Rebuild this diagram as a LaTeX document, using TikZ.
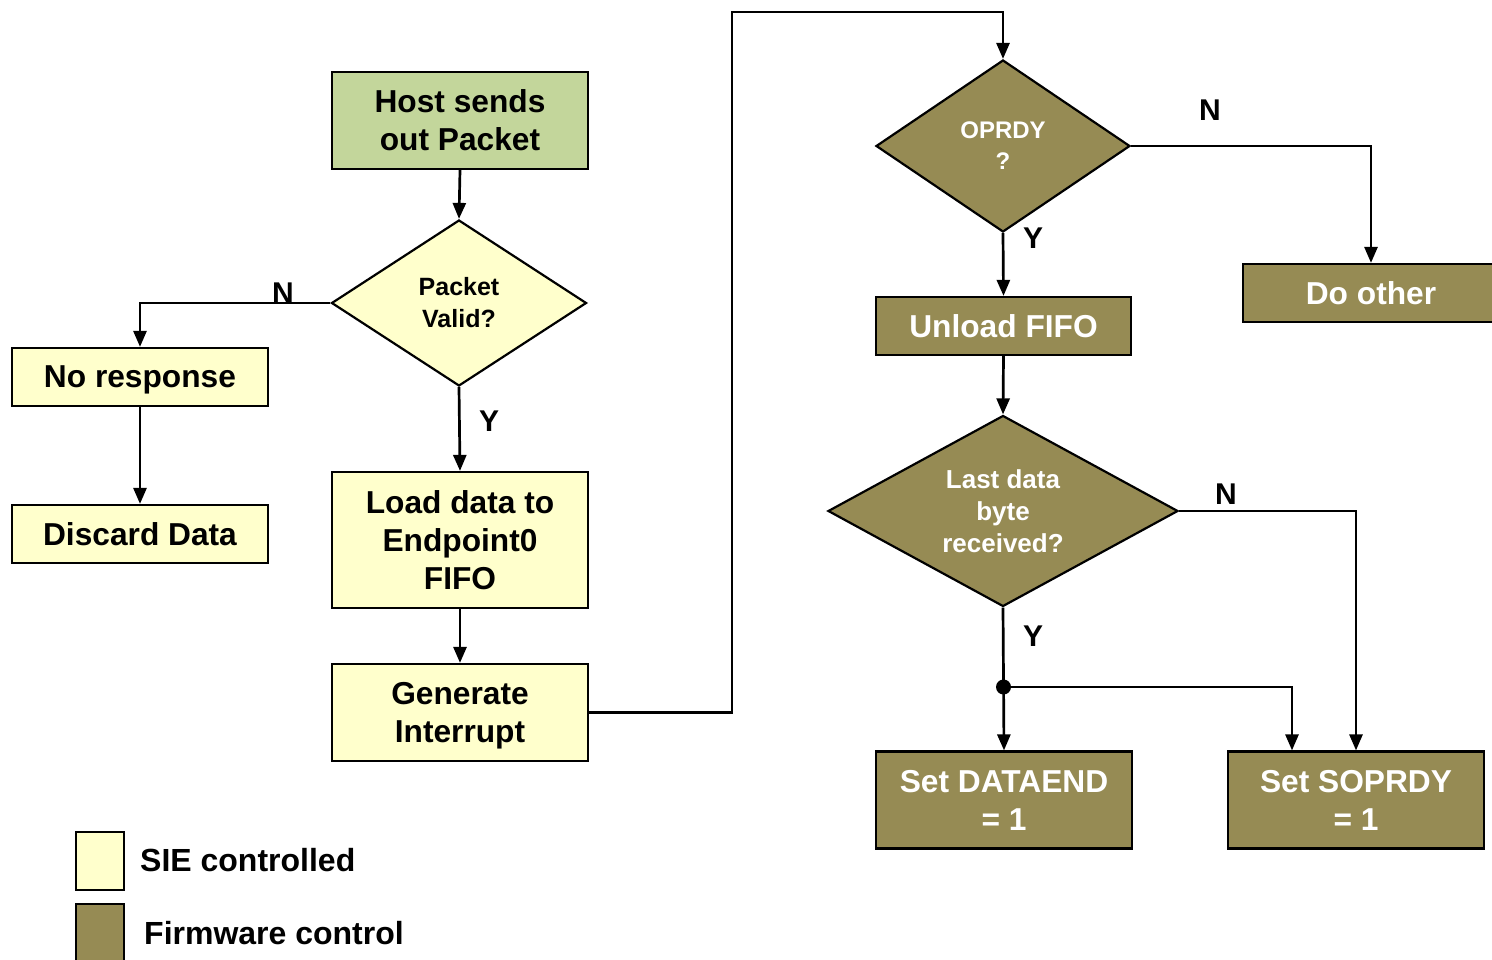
\documentclass[tikz,border=0pt]{standalone}
\usepackage{fontspec}
\setmainfont{Liberation Sans}
\usetikzlibrary{shapes.geometric,arrows.meta}
\definecolor{hostgreen}{HTML}{C3D69B}
\definecolor{sieyel}{HTML}{FFFFCC}
\definecolor{fwcol}{HTML}{968B54}
\begin{document}
\begin{tikzpicture}[x=1pt,y=-1pt,
  box/.style={draw=black, line width=2.2pt, minimum width=256pt, inner sep=0pt, align=center,
              text depth=0pt, font=\bfseries\fontsize{31.7}{38}\selectfont},
  sie/.style={box, fill=sieyel},
  fw/.style={box, fill=fwcol, text=white},
  dia/.style={diamond, draw=black, line width=2.2pt, inner sep=0pt, align=center},
  arr/.style={line width=2.7pt, -{Triangle[length=16pt,width=13pt]}},
  lbl/.style={inner sep=0pt, font=\bfseries\fontsize{30}{36}\selectfont},
  legtxt/.style={anchor=west, inner sep=0pt, font=\bfseries\fontsize{32}{38}\selectfont}]
\useasboundingbox (0,0) rectangle (1492,960);
\clip (0,0) rectangle (1492,960);

% left column
\node[box, fill=hostgreen, minimum height=97pt] (host) at (460,120.5) {Host sends\\out Packet};
\node[dia, fill=sieyel, minimum width=255pt, minimum height=166pt,
      font=\bfseries\fontsize{25}{32}\selectfont] (pv) at (459,303) {Packet\\Valid?};
\node[sie, minimum height=58pt] (nr) at (140,377) {No response};
\node[sie, minimum height=58pt] (dd) at (140,534) {Discard Data};
\node[sie, minimum height=136pt] (ld) at (460,540) {Load data to\\Endpoint0\\FIFO};
\node[sie, minimum height=97pt] (gi) at (460,712.5) {Generate\\Interrupt};

% right column
\node[dia, fill=fwcol, text=white, minimum width=254pt, minimum height=172pt,
      font=\bfseries\fontsize{24}{31}\selectfont] (op) at (1003,146) {OPRDY\\?};
\node[fw, minimum width=255pt, minimum height=58pt] (uf) at (1003.5,326) {Unload FIFO};
\node[fw, minimum height=58pt] (do) at (1371,293) {Do other};
\node[dia, fill=fwcol, text=white, aspect=1.83, minimum width=350pt, minimum height=191pt,
      font=\bfseries\fontsize{26}{32}\selectfont] (lb) at (1003,511) {Last data\\byte\\received?};
\node[fw, minimum height=97pt] (de) at (1004,800) {Set DATAEND\\= 1};
\node[fw, minimum height=97pt] (so) at (1356,800) {Set SOPRDY\\= 1};

% junction and bends
\coordinate (topbend) at (732,12);
\coordinate (jn) at (1003.5,687);

% connectors
\draw[arr] (host.south) -- (pv.north);
\draw[arr] (pv.west) -| (nr.north);
\draw[arr] (nr.south) -- (dd.north);
\draw[arr] (pv.south) -- (ld.north);
\draw[arr] (ld.south) -- (gi.north);
\draw[arr] (gi.east) -| (topbend) -| (op.north);
\draw[arr] (op.east) -| (do.north);
\draw[arr] (op.south) -- (uf.north);
\draw[arr] (uf.south) -- (lb.north);
\draw[arr] (lb.east) -| (so.north);
\draw[arr] (lb.south) -- (de.north);
\draw[arr] (jn) -| ([xshift=-64pt]so.north);
\fill (jn) circle (7.5pt);

% labels
\node[lbl] (lN1) at (283,293) {N};
\node[lbl] (lY1) at (489,421) {Y};
\node[lbl] (lN2) at (1210,110) {N};
\node[lbl] (lY2) at (1033,238) {Y};
\node[lbl] (lN3) at (1226,494) {N};
\node[lbl] (lY3) at (1033,636) {Y};

% legend
\node[draw=black, fill=sieyel, line width=2.2pt, minimum width=48pt, minimum height=58pt, inner sep=0pt] (lg1) at (100,861) {};
\node[draw=black, fill=fwcol, line width=2.2pt, minimum width=48pt, minimum height=62pt, inner sep=0pt] (lg2) at (100,935) {};
\node[legtxt] (lt1) at (140,860) {SIE controlled};
\node[legtxt] (lt2) at (144,933) {Firmware control};
\end{tikzpicture}
\end{document}
